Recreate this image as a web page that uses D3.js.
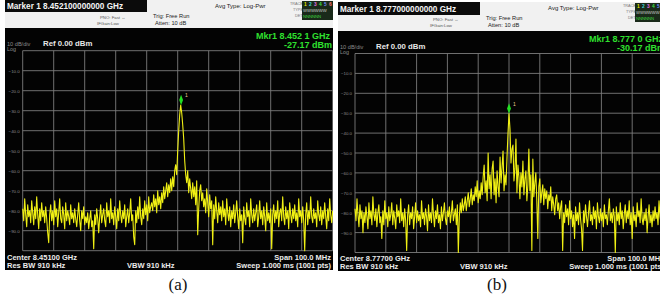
<!DOCTYPE html>
<html>
<head>
<meta charset="utf-8">
<script src="https://cdn.jsdelivr.net/npm/d3@7"></script>
<style>
  body { margin: 0; background: #fff; }
  svg { display: block; font-family: 'Liberation Sans', Arial, 'DejaVu Sans', sans-serif; }
</style>
</head>
<body>
<svg></svg>
<script>
// trace values (dBm, 311 points across the 100 MHz span)
const traceA = [
  -79,-85,-74,-82,-88,-77,-83,-80,-86,-75,
  -81,-87,-78,-84,-73,-82,-89,-79,-85,-76,
  -83,-80,-86,-78,-84,-91,-96,-82,-77,-85,
  -80,-87,-75,-83,-79,-88,-81,-74,-84,-86,
  -78,-82,-89,-76,-85,-80,-83,-87,-77,-84,
  -81,-86,-79,-84,-88,-82,-76,-85,-90,-80,
  -84,-78,-87,-83,-86,-81,-89,-84,-80,-88,
  -85,-99,-82,-87,-79,-84,-91,-83,-77,-86,
  -82,-79,-85,-88,-76,-83,-80,-86,-74,-84,
  -81,-87,-78,-83,-89,-79,-85,-75,-82,-86,
  -80,-84,-77,-88,-83,-79,-86,-81,-74,-85,
  -82,-93,-97,-80,-86,-78,-84,-73,-83,-87,
  -79,-84,-75,-82,-77,-85,-73,-81,-78,-76,
  -80,-72,-78,-74,-81,-70,-77,-73,-79,-71,
  -76,-68,-74,-70,-66,-73,-67,-71,-64,-70,
  -63,-68,-60,-57,-62,-50,-40,-32,-27.2,-31,
  -37,-44,-55,-62,-66,-60,-71,-64,-69,-74,
  -66,-73,-68,-77,-65,-92,-79,-70,-67,-75,
  -71,-78,-74,-81,-69,-76,-83,-72,-79,-75,
  -97,-77,-84,-73,-80,-86,-76,-82,-78,-85,
  -75,-83,-79,-87,-74,-81,-85,-78,-88,-80,
  -84,-77,-86,-81,-75,-83,-89,-79,-85,-82,
  -96,-78,-84,-87,-76,-83,-80,-88,-74,-82,
  -86,-79,-85,-81,-77,-88,-83,-75,-84,-80,
  -87,-78,-83,-90,-76,-85,-81,-86,-79,-99,
  -82,-77,-86,-80,-84,-75,-88,-81,-79,-85,
  -73,-83,-87,-78,-84,-80,-89,-76,-82,-86,
  -79,-84,-77,-85,-81,-88,-74,-83,-80,-86,
  -78,-85,-100,-82,-76,-87,-80,-84,-73,-83,
  -86,-79,-84,-81,-88,-75,-82,-85,-78,-87,
  -80,-84,-76,-83,-89,-79,-85,-74,-82,-86,
  -80
];
const traceB = [
  -78,-84,-73,-81,-87,-76,-83,-79,-90,-80,
  -85,-77,-82,-88,-75,-83,-79,-86,-72,-81,
  -84,-78,-87,-80,-76,-85,-82,-93,-79,-86,
  -74,-83,-80,-87,-77,-84,-81,-75,-86,-79,
  -83,-88,-76,-82,-79,-85,-73,-84,-80,-87,
  -78,-84,-99,-81,-76,-86,-80,-83,-77,-88,
  -82,-75,-85,-79,-84,-81,-87,-74,-83,-80,
  -86,-78,-82,-89,-76,-84,-80,-85,-73,-81,
  -87,-79,-83,-76,-85,-81,-88,-77,-84,-80,
  -75,-83,-86,-79,-82,-77,-85,-80,-74,-84,
  -81,-78,-86,-76,-100,-82,-75,-80,-73,-79,
  -76,-72,-79,-74,-70,-77,-73,-68,-76,-71,
  -74,-67,-72,-64,-75,-69,-73,-65,-71,-62,
  -56,-70,-64,-74,-50,-68,-61,-73,-58,-54,
  -71,-63,-75,-59,-67,-72,-52,-65,-57,-49,
  -69,-61,-66,-52,-40,-30.2,-38,-55,-48,-46,
  -64,-58,-43,-70,-56,-62,-73,-60,-67,-54,
  -71,-63,-59,-74,-66,-48,-69,-61,-99,-53,
  -72,-65,-60,-74,-93,-67,-63,-75,-70,-66,
  -76,-68,-73,-69,-78,-71,-74,-67,-79,-72,
  -76,-81,-73,-71,-79,-75,-83,-77,-74,-99,
  -80,-85,-76,-82,-78,-86,-74,-83,-79,-87,
  -81,-93,-77,-84,-80,-86,-75,-83,-88,-99,
  -79,-85,-76,-82,-87,-80,-74,-84,-81,-86,
  -77,-83,-79,-88,-75,-82,-85,-78,-84,-80,
  -87,-76,-83,-81,-86,-79,-73,-84,-80,-85,
  -78,-82,-100,-77,-84,-80,-86,-75,-83,-79,
  -88,-81,-76,-85,-79,-83,-74,-86,-80,-93,
  -77,-84,-81,-87,-75,-82,-79,-85,-73,-83,
  -86,-80,-84,-78,-90,-82,-76,-85,-81,-87,
  -79,-84,-77,-83,-80,-86,-74,-82,-85,-78,
  -81
];

const captions = ['(a)', '(b)'];
const markerTitles = ['Marker 1 8.452100000000 GHz', 'Marker 1 8.777000000000 GHz'];
const centerGHz = [8.451, 8.777];
const markerGHz = [8.4521, 8.7770];
const markerDbm = [-27.17, -30.17];
const mkrFreqText = ['Mkr1 8.452 1 GHz', 'Mkr1 8.777 0 GHz'];
const mkrAmpText = ['-27.17 dBm', '-30.17 dBm'];
const centerText = ['Center 8.45100 GHz', 'Center 8.77700 GHz'];
const spanMHz = 100;
const refLevel = 0, dbPerDiv = 10;
const dbTicks = [-10, -20, -30, -40, -50, -60, -70, -80, -90];
const traceNums = ['1', '2', '3', '4', '5', '6'];

const traces = [traceA, traceB];
const traceNumColors = ['#e8e800', '#40d8d8', '#e070e0', '#40e040', '#7090ff', '#ff7070'];

const width = 660, height = 295;
const svg = d3.select('svg').attr('width', width).attr('height', height);
const defs = svg.append('defs');

// where each screenshot sits on the page
const layout = [
  {x0: 5,   x1: 333, top: 0, title: 12, screen: 28, gTop: 50.7, gBot: 250.7, gLeft: 22.7, gRight: 332.7, bottom: 270, capX: 178},
  {x0: 338, x1: 664, top: 2, title: 13, screen: 31, gTop: 53.5, gBot: 252.5, gLeft: 355,  gRight: 663,   bottom: 271, capX: 497}
];

drawPanel(0);
drawPanel(1);

function drawPanel(k) {
  const L = layout[k], trace = traces[k];
  const w = L.x1 - L.x0;

  defs.append('clipPath').attr('id', 'clip' + k)
      .append('rect').attr('x', L.x0).attr('y', L.top).attr('width', w).attr('height', L.bottom - L.top);

  const g = svg.append('g').attr('clip-path', 'url(#clip' + k + ')');

  // header strip + black screen
  g.append('rect').attr('x', L.x0).attr('y', L.top).attr('width', w).attr('height', L.screen - L.top)
   .attr('fill', '#f1f1f1');
  g.append('rect').attr('x', L.x0).attr('y', L.screen).attr('width', w).attr('height', L.bottom - L.screen)
   .attr('fill', '#030303');

  // title bar
  g.append('rect').attr('x', L.x0).attr('y', L.top).attr('width', 142).attr('height', L.title)
   .attr('fill', '#0b0b0b');
  g.append('text').attr('x', L.x0 + 2).attr('y', L.top + L.title - 3)
   .attr('font-size', '8.2px').attr('font-weight', 'bold').attr('fill', '#f4f4f4')
   .text(markerTitles[k]);

  // small header notes
  const note = (x, y, size, txt, col) => g.append('text').attr('x', L.x0 + x).attr('y', L.top + y)
      .attr('font-size', size + 'px').attr('fill', col || '#333').text(txt);
  note(95, 19, 4.3, 'PNO: Fast  \u2194', '#555');
  note(92, 25, 4.3, 'IFGain:Low', '#555');
  note(148, 18, 5.7, 'Trig: Free Run', '#222');
  note(150, 25, 5.7, 'Atten: 10 dB', '#222');
  note(210, 7.5, 6, 'Avg Type: Log-Pwr', '#222');
  note(285, 5, 3.8, 'TRACE', '#777');
  note(288, 11, 3.8, 'TYPE', '#777');
  note(290, 17, 3.8, 'DET', '#777');

  // trace status box
  g.append('rect').attr('x', L.x0 + 297).attr('y', L.top + 1).attr('width', 32).attr('height', 19)
   .attr('fill', '#1a2a1a');
  g.selectAll('.tnum').data(traceNums).enter().append('text')
   .attr('x', (d, i) => L.x0 + 299 + i * 5).attr('y', L.top + 6)
   .attr('font-size', '4.8px').attr('font-weight', 'bold')
   .attr('fill', (d, i) => traceNumColors[i]).text(d => d);
  g.append('text').attr('x', L.x0 + 298).attr('y', L.top + 12).attr('font-size', '4.2px')
   .attr('fill', '#cfcfcf').text('WWWWWW');
  g.append('text').attr('x', L.x0 + 298).attr('y', L.top + 18).attr('font-size', '4.2px')
   .attr('fill', '#40d040').text('NNNNNN');

  // marker readout
  g.append('text').attr('x', L.x0 + 251).attr('y', L.screen + 11)
   .attr('font-size', '9px').attr('font-weight', 'bold').attr('fill', '#2fe02f').text(mkrFreqText[k]);
  g.append('text').attr('x', L.x0 + 279).attr('y', L.screen + 20)
   .attr('font-size', '9px').attr('font-weight', 'bold').attr('fill', '#2fe02f').text(mkrAmpText[k]);

  // scale info
  g.append('text').attr('x', L.x0 + 2).attr('y', L.gTop - 5).attr('font-size', '5.6px')
   .attr('fill', '#8a8a8a').text('10 dB/div');
  g.append('text').attr('x', L.x0 + 2).attr('y', L.gTop).attr('font-size', '5.4px')
   .attr('fill', '#8a8a8a').text('Log');
  g.append('text').attr('x', L.x0 + 38).attr('y', L.gTop - 4.5).attr('font-size', '7.8px')
   .attr('font-weight', 'bold').attr('fill', '#e8e8e8').text('Ref 0.00 dBm');

  // scales
  const xScale = d3.scaleLinear()
      .domain([centerGHz[k] - spanMHz / 2000, centerGHz[k] + spanMHz / 2000])
      .range([L.gLeft, L.gRight]);
  const yScale = d3.scaleLinear()
      .domain([refLevel, refLevel - 10 * dbPerDiv])
      .range([L.gTop, L.gBot]);
  const divScale = d3.scaleLinear().domain([0, 10]).range([L.gLeft, L.gRight]);

  // graticule
  g.selectAll('.vgrid').data(d3.range(11)).enter().append('line')
   .attr('x1', d => divScale(d)).attr('x2', d => divScale(d))
   .attr('y1', L.gTop).attr('y2', L.gBot)
   .attr('stroke', '#7c7c7c').attr('stroke-width', 0.9);
  g.selectAll('.hgrid').data(d3.range(0, -101, -10)).enter().append('line')
   .attr('x1', L.gLeft).attr('x2', L.gRight)
   .attr('y1', d => yScale(d)).attr('y2', d => yScale(d))
   .attr('stroke', '#7c7c7c').attr('stroke-width', 0.9);

  // dB labels
  g.selectAll('.ylab').data(dbTicks).enter().append('text')
   .attr('x', L.gLeft - 3).attr('y', d => yScale(d) + 2)
   .attr('text-anchor', 'end').attr('font-size', '4.4px').attr('fill', '#8c8c8c')
   .text(d => d3.format('.1f')(d));

  // trace
  const step = spanMHz / 1000 / (trace.length - 1);
  const lineFunction = d3.line()
      .x((d, i) => xScale(xScale.domain()[0] + i * step))
      .y(d => yScale(d));
  g.append('path').attr('d', lineFunction(trace))
   .attr('fill', 'none').attr('stroke', '#f0f014').attr('stroke-width', 1.1)
   .attr('stroke-linejoin', 'round');

  // marker diamond
  const mx = xScale(markerGHz[k]), my = yScale(markerDbm[k]) - 5;
  g.append('path').attr('d', d3.symbol().type(d3.symbolDiamond).size(18)())
   .attr('transform', 'translate(' + mx + ',' + my + ') scale(0.85,1.35)')
   .attr('fill', '#22e022');
  g.append('text').attr('x', mx + 4).attr('y', my - 3).attr('font-size', '5px')
   .attr('fill', '#e8c890').text('1');

  // footer
  const foot = (x, y, txt, anchor) => g.append('text').attr('x', L.x0 + x).attr('y', y)
      .attr('text-anchor', anchor || 'start').attr('font-size', '7.5px').attr('font-weight', 'bold')
      .attr('fill', '#ececec').text(txt);
  foot(2, L.bottom - 10, centerText[k]);
  foot(326, L.bottom - 10, 'Span 100.0 MHz', 'end');
  foot(2, L.bottom - 2, 'Res BW 910 kHz');
  foot(122, L.bottom - 2, 'VBW 910 kHz');
  foot(326, L.bottom - 2, 'Sweep  1.000 ms (1001 pts)', 'end');

  // caption
  svg.append('text').attr('x', L.capX).attr('y', 290)
     .attr('text-anchor', 'middle').attr('font-family', "'Liberation Serif', 'Times New Roman', serif")
     .attr('font-size', '17px').attr('fill', '#111').text(captions[k]);
}
</script>
</body>
</html>
